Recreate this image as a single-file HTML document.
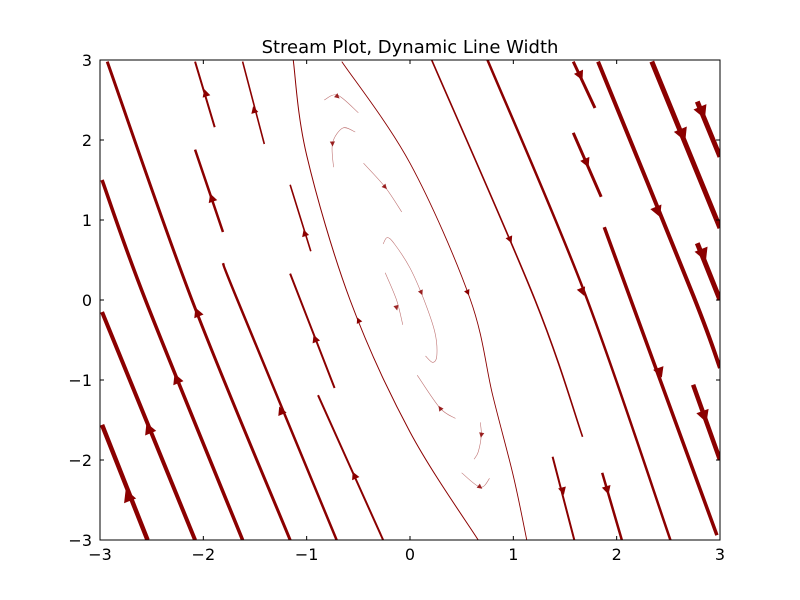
<!DOCTYPE html>
<html><head><meta charset="utf-8"><style>
body{margin:0;background:#fff}
svg{display:block;font-family:"DejaVu Sans","Liberation Sans",sans-serif}
</style></head><body>
<svg id="chart" width="800" height="600" viewBox="0 0 800 600">
<rect x="0" y="0" width="800" height="600" fill="#fff"/>
<text x="410" y="53" text-anchor="middle" font-size="18">Stream Plot, Dynamic Line Width</text>
<g id="marks"></g>
<g id="axes"></g>
</svg>
<script>
// x/y data range
const xDomain = [-3, 3];
const yDomain = [-3, 3];
const xTicks = [-3, -2, -1, 0, 1, 2, 3];
const yTicks = [-3, -2, -1, 0, 1, 2, 3];
const tickLabels = ["\u22123", "\u22122", "\u22121", "0", "1", "2", "3"];
// streamlines: points in data units
const streamPoints = [
  [[-2.98,-1.56],[-2.54,-3]],
  [[-2.98,-0.15],[-2.08,-3]],
  [[-2.98,1.5],[-2.56,0],[-1.62,-3]],
  [[-2.93,2.98],[-2.11,0],[-1.16,-3]],
  [[-1.81,0.46],[-1.67,0],[-0.71,-3]],
  [[-2.08,1.88],[-1.81,0.85]],
  [[-2.08,2.98],[-1.89,2.16]],
  [[-1.16,0.33],[-0.73,-1.1]],
  [[-1.16,1.44],[-0.96,0.61]],
  [[-1.62,2.98],[-1.41,1.95]],
  [[-0.89,-1.19],[-0.26,-3]],
  [[-1.13,3],[-1.0,1.81],[-0.58,0],[0,-1.65],[0.66,-3]],
  [[-0.66,2.98],[0,1.71],[0.58,0.02],[0.80,-1.19],[1.0,-2.2],[1.13,-3]],
  [[0.21,3],[1.21,0],[1.67,-1.71]],
  [[0.75,3],[1.69,0.09],[2.52,-3]],
  [[1.58,2.98],[1.79,2.4]],
  [[1.58,2.09],[1.85,1.29]],
  [[1.88,0.91],[2.97,-2.94]],
  [[1.82,2.98],[2.74,0.06],[3.0,-0.85]],
  [[2.34,2.98],[3.0,0.9]],
  [[2.78,2.48],[3.0,1.79]],
  [[2.78,0.71],[3.0,0.0]],
  [[2.74,-1.06],[3.0,-2.0]],
  [[1.38,-1.96],[1.59,-3]],
  [[1.86,-2.16],[2.05,-3]],
  [[-0.83,2.5],[-0.70,2.56],[-0.50,2.34]],
  [[-0.74,1.66],[-0.75,1.96],[-0.65,2.15],[-0.53,2.1]],
  [[-0.45,1.71],[-0.24,1.41],[-0.08,1.1]],
  [[-0.26,0.7],[-0.22,0.78],[-0.15,0.7],[0,0.4],[0.13,0.02],[0.24,-0.4],[0.26,-0.69],[0.22,-0.78],[0.15,-0.7]],
  [[-0.24,0.34],[-0.13,0],[-0.07,-0.31]],
  [[0.07,-0.94],[0.29,-1.35],[0.44,-1.48]],
  [[0.68,-1.53],[0.69,-1.69],[0.66,-1.9],[0.62,-1.99]],
  [[0.50,-2.16],[0.68,-2.34],[0.77,-2.23]]
];
// speed-based line widths
const streamWidths = [4.5,4,3.5,3,2.5,2.5,2,2,1.6,1.6,2,1,0.9,1.6,2.5,3,3,3.5,4,5,5,5,4.5,2,2.5,0.6,0.6,0.6,0.6,0.6,0.6,0.6,0.6];
// arrow positions (data) and direction (+1 along point order, -1 against)
const arrowX = [-2.73,-2.53,-2.26,-2.06,-1.25,-1.92,-1.98,-0.92,-1.02,-1.51,-0.54,-0.50,0.56,0.97,1.67,1.65,1.71,2.42,2.40,2.64,2.83,2.84,2.85,1.48,1.91,-0.70,-0.75,-0.24,0.11,-0.13,0.29,0.69,0.68];
const arrowY = [-2.44,-1.6,-0.98,-0.15,-1.38,1.28,2.59,-0.48,0.84,2.38,-2.19,-0.25,0.09,0.75,0.1,2.8,1.71,-0.91,1.1,2.06,2.34,0.56,-1.46,-2.39,-2.38,2.54,1.95,1.41,0.09,-0.1,-1.35,-1.69,-2.34];
const arrowDir = [-1,-1,-1,-1,-1,-1,-1,-1,-1,-1,-1,-1,1,1,1,1,1,1,1,1,1,1,1,1,1,1,-1,1,1,1,-1,1,1];

const L=100,R=720,T=60,B=540;
const sx=v=>L+(v-xDomain[0])/(xDomain[1]-xDomain[0])*(R-L);
const sy=v=>B-(v-yDomain[0])/(yDomain[1]-yDomain[0])*(B-T);
const NS="http://www.w3.org/2000/svg";
const marks=document.getElementById('marks');
const axes=document.getElementById('axes');
const clip=document.createElementNS(NS,'clipPath');clip.setAttribute('id','pc');
const cr=document.createElementNS(NS,'rect');cr.setAttribute('x',L);cr.setAttribute('y',T);cr.setAttribute('width',R-L);cr.setAttribute('height',B-T);
clip.appendChild(cr);marks.appendChild(clip);
marks.setAttribute('clip-path','url(#pc)');

function smoothPath(P){
  let d='M'+P[0][0]+','+P[0][1];
  for(let i=0;i<P.length-1;i++){
    const p0=P[Math.max(0,i-1)],p1=P[i],p2=P[i+1],p3=P[Math.min(P.length-1,i+2)];
    const c1x=p1[0]+(p2[0]-p0[0])/6,c1y=p1[1]+(p2[1]-p0[1])/6;
    const c2x=p2[0]-(p3[0]-p1[0])/6,c2y=p2[1]-(p3[1]-p1[1])/6;
    d+=` C${c1x},${c1y} ${c2x},${c2y} ${p2[0]},${p2[1]}`;
  }
  return d;
}

streamPoints.forEach((pts,i)=>{
  const w=streamWidths[i];
  const P=pts.map(q=>[sx(q[0]),sy(q[1])]);
  const p=document.createElementNS(NS,'path');
  p.setAttribute('d',smoothPath(P));
  p.setAttribute('fill','none');
  p.setAttribute('stroke','#8b0000');
  p.setAttribute('stroke-width',w);
  if(w<0.8)p.setAttribute('stroke-opacity','0.55');
  
  
  marks.appendChild(p);
  const ax=sx(arrowX[i]),ay=sy(arrowY[i]);
  let best=1e9,dx=0,dy=1;
  for(let k=0;k<P.length-1;k++){
    const x1=P[k][0],y1=P[k][1],x2=P[k+1][0],y2=P[k+1][1];
    const mx=(x1+x2)/2,my=(y1+y2)/2,d=Math.hypot(mx-ax,my-ay)-Math.hypot(x2-x1,y2-y1)/2;
    if(d<best){best=d;dx=x2-x1;dy=y2-y1;}
  }
  const n=Math.hypot(dx,dy)||1;dx=dx/n*arrowDir[i];dy=dy/n*arrowDir[i];
  const len=4+w*1.8,hw=2+w*1.0;
  const tx=ax+dx*len/2,ty=ay+dy*len/2,bx=ax-dx*len/2,by=ay-dy*len/2;
  const a=document.createElementNS(NS,'polygon');
  a.setAttribute('points',`${tx},${ty} ${bx-dy*hw},${by+dx*hw} ${bx+dy*hw},${by-dx*hw}`);
  a.setAttribute('fill','#8b0000');
  if(w<0.8)a.setAttribute('fill-opacity','0.85');
  
  
  marks.appendChild(a);
});

const frame=document.createElementNS(NS,'rect');
frame.setAttribute('x',L);frame.setAttribute('y',T);frame.setAttribute('width',R-L);frame.setAttribute('height',B-T);
frame.setAttribute('fill','none');frame.setAttribute('stroke','#000');frame.setAttribute('stroke-width','1');


axes.appendChild(frame);

function line(x1,y1,x2,y2,name){
  const l=document.createElementNS(NS,'line');
  l.setAttribute('x1',x1);l.setAttribute('y1',y1);l.setAttribute('x2',x2);l.setAttribute('y2',y2);
  l.setAttribute('stroke','#000');l.setAttribute('stroke-width','1');
  
  
  axes.appendChild(l);
}
function text(x,y,s,anchor,name){
  const t=document.createElementNS(NS,'text');
  t.setAttribute('x',x);t.setAttribute('y',y);t.setAttribute('text-anchor',anchor);t.setAttribute('font-size','16');
  t.textContent=s;
  
  
  axes.appendChild(t);
}
xTicks.forEach((v,i)=>{
  const x=sx(v);
  line(x,B,x,B-4,'x-tick');line(x,T,x,T+4,'x-tick-top');
  text(x,B+20,tickLabels[i],'middle','x-tick-label');
});
yTicks.forEach((v,i)=>{
  const y=sy(v);
  line(L,y,L+4,y,'y-tick');line(R,y,R-4,y,'y-tick-right');
  text(L-8,y+6,tickLabels[i],'end','y-tick-label');
});
</script>
</body></html>
